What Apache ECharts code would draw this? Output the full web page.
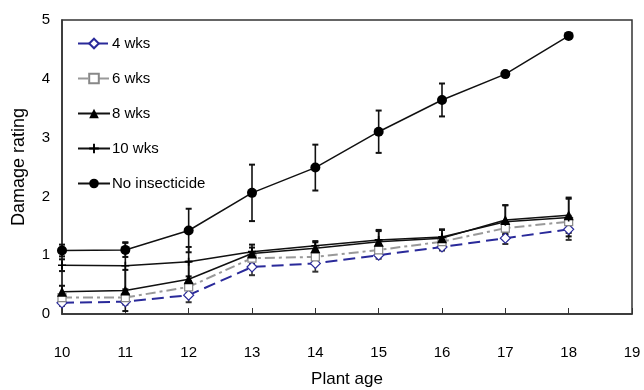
<!DOCTYPE html>
<html>
<head>
<meta charset="utf-8">
<script src="https://cdn.jsdelivr.net/npm/echarts@6/dist/echarts.min.js"></script>
<style>html,body{margin:0;padding:0;background:#fff}#c{width:644px;height:390px}</style>
</head>
<body>
<div id="c"></div>
<script>
var ages = [10, 11, 12, 13, 14, 15, 16, 17, 18];
var xTicks = [10, 11, 12, 13, 14, 15, 16, 17, 18, 19];
var yTicks = [0, 1, 2, 3, 4, 5];
var seriesNames = ['4 wks', '6 wks', '8 wks', '10 wks', 'No insecticide'];
var wk4 = [0.19, 0.21, 0.32, 0.80, 0.86, 1.00, 1.14, 1.29, 1.44];
var wk6 = [0.28, 0.28, 0.46, 0.95, 0.97, 1.09, 1.23, 1.46, 1.57];
var wk8 = [0.38, 0.40, 0.59, 1.03, 1.12, 1.23, 1.29, 1.60, 1.68];
var wk10 = [0.83, 0.82, 0.89, 1.06, 1.16, 1.26, 1.31, 1.57, 1.64];
var noIns = [1.08, 1.09, 1.42, 2.06, 2.49, 3.10, 3.64, 4.08, 4.73];
var wk4Err = [0.05, 0.05, 0.12, 0.14, 0.14, 0.06, 0.06, 0.10, 0.18];
var wk6Err = [0.05, 0.05, 0.10, 0.10, 0.10, 0.10, 0.08, 0.10, 0.10];
var wk8Err = [0.10, 0.35, 0.30, 0.10, 0.10, 0.20, 0.15, 0.25, 0.30];
var wk10Err = [0.10, 0.40, 0.25, 0.12, 0.08, 0.15, 0.12, 0.28, 0.32];
var noInsErr = [0.10, 0.12, 0.37, 0.48, 0.39, 0.36, 0.28, 0.04, 0.04];

var FONT = 'Liberation Sans, Arial, sans-serif';
function pairs(vals){ return ages.map(function(a,i){ return [a, vals[i]]; }); }
function errData(vals, errs){ return ages.map(function(a,i){ return [a, vals[i], errs[i]]; }); }
function errSeries(vals, errs, color){
  return {
    type: 'custom', silent: true, z: 1,
    data: errData(vals, errs),
    encode: {x: 0, y: 1},
    renderItem: function(params, api){
      var x = api.value(0), y = api.value(1), e = api.value(2);
      var hi = api.coord([x, y + e]), lo = api.coord([x, y - e]);
      var w = 3;
      var st = {stroke: color, lineWidth: 1.6};
      return {type: 'group', children: [
        {type: 'line', shape: {x1: hi[0], y1: hi[1], x2: lo[0], y2: lo[1]}, style: st},
        {type: 'line', shape: {x1: hi[0]-w, y1: hi[1], x2: hi[0]+w, y2: hi[1]}, style: {stroke: color, lineWidth: 2}},
        {type: 'line', shape: {x1: lo[0]-w, y1: lo[1], x2: lo[0]+w, y2: lo[1]}, style: {stroke: color, lineWidth: 2}}
      ]};
    }
  };
}
var chart = echarts.init(document.getElementById('c'));
chart.setOption({
  animation: false,
  textStyle: {fontFamily: FONT, color: '#000'},
  grid: {left: 62, right: 12, top: 20, bottom: 76, show: true, borderColor: '#333', borderWidth: 1.5,
    containLabel: false, outerBoundsMode: 'none'},
  legend: {
    orient: 'vertical', left: 72, top: 31, itemGap: 20, itemWidth: 32, itemHeight: 12,
    data: seriesNames,
    textStyle: {fontFamily: FONT, fontSize: 15, color: '#000', padding: [0,0,0,-3]}
  },
  xAxis: {
    type: 'value', min: 10, max: 19, interval: 1,
    name: 'Plant age', nameLocation: 'middle', nameGap: 57,
    nameTextStyle: {fontSize: 17, color: '#000'},
    axisLine: {lineStyle: {color: '#333', width: 1.5}},
    axisTick: {inside: true, length: 6, lineStyle: {color: '#333'}},
    axisLabel: {fontSize: 15, color: '#000', margin: 31},
    splitLine: {show: false}
  },
  yAxis: {
    type: 'value', min: 0, max: 5, interval: 1,
    name: 'Damage rating', nameLocation: 'middle', nameGap: 34,
    nameTextStyle: {fontSize: 18, color: '#000'},
    axisLine: {show: true, lineStyle: {color: '#333', width: 1.5}},
    axisTick: {show: false},
    axisLabel: {fontSize: 15, color: '#000', margin: 12},
    splitLine: {show: false}
  },
  series: [
    errSeries(wk4, wk4Err, '#333'),
    errSeries(wk6, wk6Err, '#333'),
    errSeries(wk8, wk8Err, '#111'),
    errSeries(wk10, wk10Err, '#111'),
    errSeries(noIns, noInsErr, '#111'),
    {name: '4 wks', type: 'line', data: pairs(wk4), z: 3,
      symbol: 'diamond', symbolSize: 10, showSymbol: true,
      lineStyle: {color: '#2a2a9a', width: 2, type: [12, 6]},
      itemStyle: {color: '#fff', borderColor: '#2a2a9a', borderWidth: 1.2}},
    {name: '6 wks', type: 'line', data: pairs(wk6), z: 3,
      symbol: 'rect', symbolSize: 8,
      lineStyle: {color: '#999', width: 2, type: [10, 4, 3, 4]},
      itemStyle: {color: '#fff', borderColor: '#888', borderWidth: 1.2}},
    {name: '8 wks', type: 'line', data: pairs(wk8), z: 4,
      symbol: 'triangle', symbolSize: 10,
      lineStyle: {color: '#111', width: 1.5},
      itemStyle: {color: '#000'}},
    {name: '10 wks', type: 'line', data: pairs(wk10), z: 4,
      symbol: 'path://M4,0H6V4H10V6H6V10H4V6H0V4H4Z', symbolSize: 8,
      lineStyle: {color: '#111', width: 1.5},
      itemStyle: {color: '#000'}},
    {name: 'No insecticide', type: 'line', data: pairs(noIns), z: 5,
      symbol: 'circle', symbolSize: 10,
      lineStyle: {color: '#111', width: 1.5},
      itemStyle: {color: '#000'}}
  ]
});
</script>
</body>
</html>
